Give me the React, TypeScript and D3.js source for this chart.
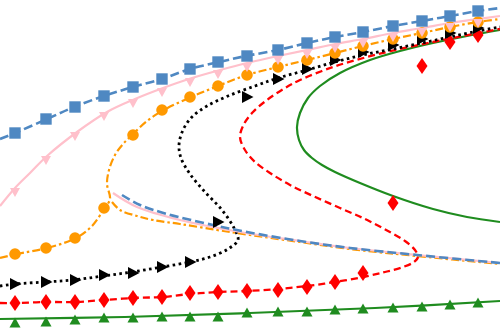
import React from 'react';
import * as d3 from 'd3';

type P = [number, number];

// shared abscissae of the simulation markers
const markerX = [0.15, 0.46, 0.75, 1.04, 1.33, 1.62, 1.9, 2.18, 2.47, 2.78, 3.07, 3.35, 3.63, 3.93, 4.22, 4.5, 4.78];

// model curves
const blueUpper: P[] = [[0,1.94],[0.15,2.0],[0.47,2.14],[0.74,2.26],[1.04,2.37],[1.33,2.46],[1.62,2.54],[1.9,2.64],[2.19,2.71],[2.46,2.77],[2.78,2.83],[3.07,2.9],[3.35,2.96],[3.63,3.01],[3.93,3.07],[4.22,3.12],[4.5,3.17],[4.78,3.22],[5.0,3.25]];
const blueMiddle: P[] = [[1.22,1.38],[1.4,1.28],[1.67,1.19],[2.13,1.08],[2.47,1.01],[3.0,0.92],[3.5,0.85],[4.17,0.78],[5.0,0.7]];

const pinkUpper: P[] = [[0,1.27],[0.15,1.45],[0.3,1.6],[0.47,1.77],[0.77,2.01],[1.07,2.21],[1.35,2.34],[1.63,2.45],[1.92,2.55],[2.2,2.63],[2.47,2.7],[2.78,2.77],[3.07,2.83],[3.35,2.89],[3.63,2.94],[3.93,3.0],[4.22,3.05],[4.5,3.1],[4.78,3.14],[5.0,3.17]];
const pinkMiddle: P[] = [[1.13,1.4],[1.37,1.26],[1.8,1.13],[2.4,1.01],[3.0,0.92],[3.5,0.85],[4.17,0.78],[5.0,0.7]];

const orangeMain: P[] = [[0,0.75],[0.17,0.79],[0.47,0.85],[0.76,0.95],[0.92,1.07],[1.04,1.24],[1.1,1.34],[1.07,1.49],[1.09,1.63],[1.15,1.78],[1.23,1.89],[1.32,1.98],[1.47,2.12],[1.62,2.22],[1.91,2.36],[2.18,2.47],[2.47,2.58],[2.78,2.66],[3.07,2.73],[3.35,2.8],[3.63,2.87],[3.93,2.94],[4.22,3.0],[4.5,3.06],[4.78,3.11],[5.0,3.14]];
const orangeMiddle: P[] = [[1.12,1.31],[1.2,1.23],[1.37,1.17],[1.53,1.13],[1.8,1.09],[2.17,1.03],[2.5,0.98],[3.0,0.91],[3.5,0.84],[4.17,0.77],[5.0,0.69]];

const blackMain: P[] = [[0,0.47],[0.15,0.49],[0.45,0.51],[0.73,0.53],[1.03,0.57],[1.32,0.61],[1.62,0.66],[1.9,0.71],[2.1,0.76],[2.28,0.84],[2.38,0.93],[2.34,1.05],[2.22,1.23],[2.05,1.41],[1.9,1.59],[1.81,1.75],[1.79,1.88],[1.83,2.03],[1.92,2.16],[2.07,2.27],[2.28,2.37],[2.55,2.47],[2.78,2.55],[3.07,2.63],[3.35,2.71],[3.63,2.78],[3.93,2.84],[4.22,2.9],[4.5,2.96],[4.78,3.02],[5.0,3.06]];

const redMain: P[] = [[0,0.3],[0.17,0.3],[0.47,0.31],[0.76,0.31],[1.04,0.33],[1.33,0.35],[1.62,0.36],[1.9,0.39],[2.18,0.41],[2.47,0.42],[2.78,0.44],[3.07,0.47],[3.35,0.51],[3.63,0.56],[3.85,0.61],[4.03,0.66],[4.14,0.71],[4.18,0.76],[4.15,0.83],[4.05,0.92],[3.88,1.02],[3.65,1.14],[3.4,1.25],[3.13,1.37],[2.9,1.48],[2.7,1.6],[2.55,1.71],[2.45,1.83],[2.4,1.96],[2.44,2.09],[2.53,2.21],[2.67,2.33],[2.85,2.45],[3.0,2.53],[3.33,2.66],[3.67,2.76],[4.0,2.84],[4.33,2.91],[4.63,2.97],[5.0,3.04]];

const greenLower: P[] = [[0,0.14],[1.25,0.16],[2.5,0.2],[3.75,0.25],[5.0,0.32]];
const greenUpper: P[] = [[5.0,3.03],[4.67,2.97],[4.33,2.9],[4.0,2.82],[3.7,2.73],[3.4,2.6],[3.2,2.47],[3.08,2.35],[3.0,2.2],[2.97,2.06],[2.99,1.93],[3.04,1.83],[3.12,1.75],[3.22,1.68],[3.35,1.61],[3.6,1.5],[3.93,1.37],[4.33,1.24],[4.67,1.16],[5.0,1.11]];

// simulation markers
const blueSim = [2.0,2.14,2.26,2.37,2.46,2.54,2.64,2.71,2.77,2.83,2.9,2.96,3.01,3.07,3.12,3.17,3.22];
const pinkSim = [1.41,1.73,1.97,2.17,2.3,2.41,2.51,2.59,2.66,2.73,2.79,2.85,2.9,2.96,3.01,3.06,3.1];
const orangeSim = [0.79,0.85,0.95,1.25,1.98,2.23,2.36,2.47,2.58,2.66,2.73,2.8,2.87,2.94,3.0,3.06,3.11];
const blackSim = [0.49,0.51,0.53,0.58,0.6,0.66,0.71,1.11,2.36,2.54,2.64,2.73,2.81,2.88,2.94,3.0,3.05];
const redSim = [0.3,0.31,0.31,0.33,0.35,0.36,0.4,0.41,0.42,0.43,0.46,0.51,0.6,1.3,2.67,2.91,2.98];
const greenSim = [0.1,0.11,0.13,0.15,0.15,0.16,0.16,0.16,0.2,0.21,0.21,0.23,0.24,0.25,0.26,0.28,0.3];

const W = 500;
const H = 333;

export default function App() {
  const x = d3.scaleLinear().domain([0, 5]).range([0, W]);
  const y = d3.scaleLinear().domain([0, 3.33]).range([H, 0]);
  const line = d3
    .line<P>()
    .x((d) => x(d[0]))
    .y((d) => y(d[1]))
    .curve(d3.curveCatmullRom.alpha(0.5));

  const BLUE = '#4f88c2';
  const PINK = '#ffc0cb';
  const ORANGE = '#ff9900';
  const BLACK = '#000000';
  const RED = '#ff0000';
  const GREEN = '#1f8c1f';

  const lines = [
    { d: greenLower, c: GREEN, w: 2.2, dash: undefined },
    { d: greenUpper, c: GREEN, w: 2.2, dash: undefined },
    { d: redMain, c: RED, w: 2.3, dash: '7,4' },
    { d: blackMain, c: BLACK, w: 2.8, dash: '2.6,3.4' },
    { d: orangeMain, c: ORANGE, w: 2.2, dash: '8,3,2.5,3' },
    { d: orangeMiddle, c: ORANGE, w: 2.2, dash: '8,3,2.5,3' },
    { d: pinkUpper, c: PINK, w: 2.2, dash: undefined },
    { d: pinkMiddle, c: PINK, w: 2.2, dash: undefined },
    { d: blueUpper, c: BLUE, w: 2.6, dash: '9,4' },
    { d: blueMiddle, c: BLUE, w: 2.6, dash: '9,4' },
  ];

  const shapes: Record<string, string> = {
    triUp: 'M0,-5.5L5.5,4.5L-5.5,4.5Z',
    diamond: 'M0,-8L5.5,0L0,8L-5.5,0Z',
    triRight: 'M-5,-6L6.5,0L-5,6Z',
    circle: 'M5.8,0A5.8,5.8,0,1,1,-5.8,0A5.8,5.8,0,1,1,5.8,0Z',
    triDown: 'M-5,-4L5,-4L0,5Z',
    square: 'M-5.7,-5.7L5.7,-5.7L5.7,5.7L-5.7,5.7Z',
  };

  const markers = [
    { v: greenSim, c: GREEN, s: 'triUp' },
    { v: redSim, c: RED, s: 'diamond' },
    { v: blackSim, c: BLACK, s: 'triRight' },
    { v: orangeSim, c: ORANGE, s: 'circle' },
    { v: pinkSim, c: PINK, s: 'triDown' },
    { v: blueSim, c: BLUE, s: 'square' },
  ];

  return (
    <svg
      width={W}
      height={H}
      style={{ position: 'absolute', left: 0, top: 0, background: '#fff' }}
    >
      {lines.map((l, i) => (
        <path
          key={'l' + i}
          d={line(l.d) || ''}
          fill="none"
          stroke={l.c}
          strokeWidth={l.w}
          strokeDasharray={l.dash}
        />
      ))}
      {markers.map((m, i) => (
        <g key={'m' + i}>
          {m.v.map((v, j) =>
            v == null ? null : (
              <path
                key={j}
                d={shapes[m.s]}
                transform={`translate(${x(markerX[j])},${y(v)})`}
                fill={m.c}
              />
            )
          )}
        </g>
      ))}
    </svg>
  );
}
